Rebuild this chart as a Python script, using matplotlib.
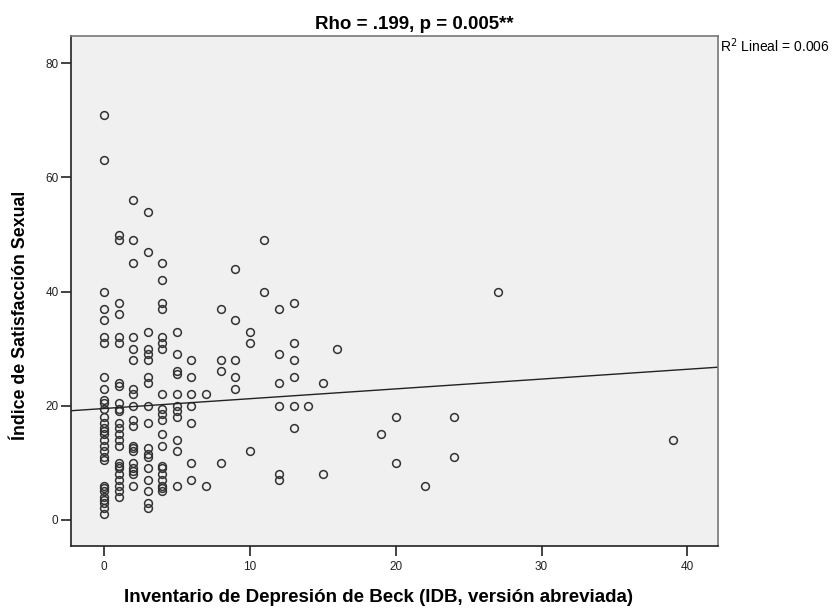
import matplotlib
matplotlib.use("Agg")
import matplotlib.pyplot as plt
import numpy as np

plt.rcParams['font.family'] = ['Liberation Sans', 'DejaVu Sans']

# Puntos por columna de IDB (x) -> valores de satisfacción sexual (y)
idb_0 = [71, 63, 40, 37, 35, 32, 31, 25, 23, 21, 20.5, 19.5, 18, 17, 16, 15.5, 15, 14, 13, 12, 11, 10.5,
         6, 5.5, 5, 4, 3.5, 3, 2, 1]
idb_1 = [50, 49, 38, 36, 32, 31, 24, 23.5, 20.5, 19.5, 19, 17, 16, 15, 14, 13, 10, 9.5, 9, 8, 7, 6, 5, 4]
idb_2 = [56, 49, 45, 32, 30, 28, 23, 22, 20, 17.5, 16.5, 13, 12.5, 12, 10, 9, 8.5, 8, 6]
idb_3 = [54, 47, 33, 30, 29, 28, 25, 24, 20, 17, 12.5, 11.5, 11, 9, 7, 5, 3, 2]
idb_4 = [45, 42, 38, 37, 32, 31, 30, 22, 19.5, 18.5, 17.5, 15, 13, 9.5, 9, 8, 7, 6, 5.5, 5]
idb_5 = [33, 29, 26, 25.5, 22, 20, 19, 18, 14, 12, 6]
idb_6 = [28, 25, 22, 20, 17, 10, 7]
otros_x = [7, 7, 8, 8, 8, 8, 9, 9, 9, 9, 9, 10, 10, 10, 11, 11, 12, 12, 12, 12, 12, 12,
           13, 13, 13, 13, 13, 13, 14, 15, 15, 16, 19, 20, 20, 22, 24, 24, 27, 39]
otros_y = [22, 6, 37, 28, 26, 10, 44, 35, 28, 25, 23, 33, 31, 12, 49, 40, 37, 29, 24, 20, 8, 7,
           38, 31, 28, 25, 20, 16, 20, 24, 8, 30, 15, 18, 10, 6, 18, 11, 40, 14]

# Recta de ajuste lineal
intercepto = 19.5
pendiente = 0.172

titulo = "Rho = .199, p = 0.005**"
etiqueta_x = "Inventario de Depresión de Beck (IDB, versión abreviada)"
etiqueta_y = "Índice de Satisfacción Sexual"
r2_texto = "R$^2$ Lineal = 0.006"

# Armar arrays completos
columnas = [idb_0, idb_1, idb_2, idb_3, idb_4, idb_5, idb_6]
x = []
y = []
for i, col in enumerate(columnas):
    x += [i] * len(col)
    y += col
x = np.array(x + otros_x, dtype=float)
y = np.array(y + otros_y, dtype=float)

fig = plt.figure(figsize=(8.33, 6.09), dpi=100)
ax = fig.add_axes([71 / 833, 1 - 546 / 609, (718 - 71) / 833, (546 - 36) / 609])
ax.set_facecolor('#f0f0f0')

ax.plot(x, y, linestyle='none', marker='o', markersize=5.6, markerfacecolor='none',
        markeredgecolor='#333333', markeredgewidth=1.1)

xlim = (-2.26, 42.1)
xs = np.array(xlim)
ax.plot(xs, intercepto + pendiente * xs, color='#222222', linewidth=1.0)

ax.set_xlim(xlim)
ax.set_ylim(-4.6, 84.8)
ax.set_xticks([0, 10, 20, 30, 40])
ax.set_yticks([0, 20, 40, 60, 80])

for s in ax.spines.values():
    s.set_color('#777777')
    s.set_linewidth(1.2)
ax.spines['left'].set_color('#222222')
ax.spines['bottom'].set_color('#222222')
ax.tick_params(axis='both', direction='out', length=7, width=1.2, color='#222222',
               labelsize=8.5, labelcolor='#222222')
ax.tick_params(axis='y', pad=2)

# Título centrado sobre toda la figura (como SPSS)
fig.text(414 / 833, 1 - 29 / 609, titulo, fontsize=13.5, fontweight='bold',
         ha='center', va='baseline')

ax.set_xlabel(etiqueta_x, fontsize=13.5, fontweight='bold')
ax.xaxis.set_label_coords((379 - 71) / 647, (546 - 589) / 510)
ax.set_ylabel(etiqueta_y, fontsize=12.8, fontweight='bold')
ax.yaxis.set_label_coords((29 - 71) / 647, (546 - 315) / 510)

fig.text(720 / 833, 1 - 46 / 609, r2_texto, fontsize=10, ha='left', va='center')

fig.savefig('out.png', dpi=100)
